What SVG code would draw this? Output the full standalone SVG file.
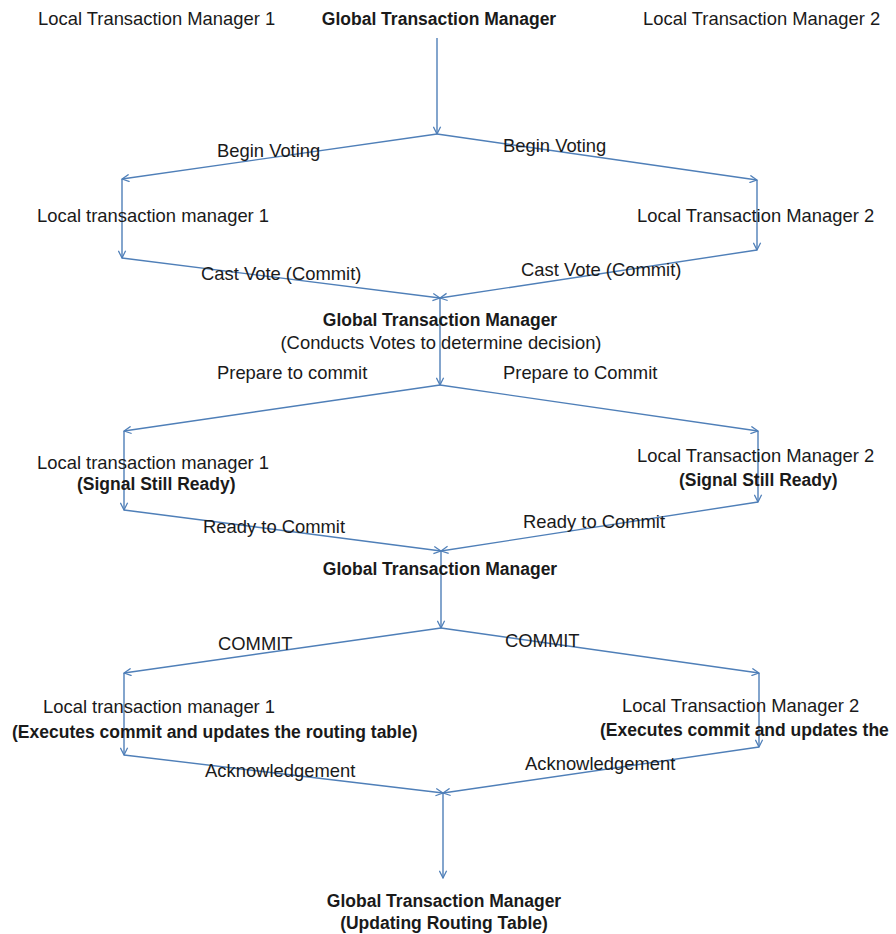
<svg xmlns="http://www.w3.org/2000/svg" width="896" height="934" viewBox="0 0 896 934">
  <style>
    .t { font-family: "Liberation Sans", Arial, sans-serif; font-size: 18.4px; fill: #1a1a1a; }
    .b { font-weight: bold; font-size: 17.5px; }
    .c { text-anchor: middle; }
    .ln { stroke: #4f7fb8; stroke-width: 1.4; fill: none; marker-end: url(#arr); }
  </style>
  <defs>
    <marker id="arr" viewBox="0 0 10 10" refX="9" refY="5" markerWidth="9" markerHeight="9" markerUnits="userSpaceOnUse" orient="auto">
      <path d="M1,1 L9,5 L1,9" fill="none" stroke="#4f7fb8" stroke-width="1.4"/>
    </marker>
  </defs>
  <rect width="896" height="934" fill="#ffffff"/>

  <!-- connectors -->
  <g id="connectors">
    <!-- phase 1: begin voting -->
    <line class="ln" x1="437" y1="38" x2="437" y2="134"/>
    <line class="ln" x1="437" y1="134" x2="122" y2="179"/>
    <line class="ln" x1="437" y1="134" x2="757" y2="180"/>
    <line class="ln" x1="122" y1="179" x2="122" y2="258"/>
    <line class="ln" x1="757" y1="180" x2="757" y2="250"/>
    <line class="ln" x1="122" y1="258" x2="440" y2="298"/>
    <line class="ln" x1="757" y1="250" x2="440" y2="298"/>
    <!-- phase 2: prepare -->
    <line class="ln" x1="440" y1="298" x2="440" y2="385"/>
    <line class="ln" x1="440" y1="385" x2="124" y2="431"/>
    <line class="ln" x1="440" y1="385" x2="758" y2="431"/>
    <line class="ln" x1="124" y1="431" x2="124" y2="510"/>
    <line class="ln" x1="758" y1="431" x2="758" y2="502"/>
    <line class="ln" x1="124" y1="510" x2="441" y2="551"/>
    <line class="ln" x1="758" y1="502" x2="441" y2="551"/>
    <!-- phase 3: commit -->
    <line class="ln" x1="441" y1="551" x2="441" y2="628"/>
    <line class="ln" x1="441" y1="628" x2="124" y2="673"/>
    <line class="ln" x1="441" y1="628" x2="759" y2="673"/>
    <line class="ln" x1="124" y1="673" x2="124" y2="755"/>
    <line class="ln" x1="759" y1="673" x2="759" y2="747"/>
    <line class="ln" x1="124" y1="755" x2="443" y2="793"/>
    <line class="ln" x1="759" y1="747" x2="443" y2="793"/>
    <line class="ln" x1="443" y1="793" x2="443" y2="878"/>
  </g>

  <!-- edge labels -->
  <g id="labels">
    <text class="t" x="217" y="157">Begin Voting</text>
    <text class="t" x="503" y="152">Begin Voting</text>
    <text class="t" x="201" y="280">Cast Vote (Commit)</text>
    <text class="t" x="521" y="276">Cast Vote (Commit)</text>
    <text class="t" x="217" y="379">Prepare to commit</text>
    <text class="t" x="503" y="379">Prepare to Commit</text>
    <text class="t" x="203" y="533">Ready to Commit</text>
    <text class="t" x="523" y="528">Ready to Commit</text>
    <text class="t" x="218" y="650">COMMIT</text>
    <text class="t" x="505" y="647">COMMIT</text>
    <text class="t" x="205" y="777">Acknowledgement</text>
    <text class="t" x="525" y="770">Acknowledgement</text>
  </g>

  <!-- top row -->
  <g id="ltm1-top"><text class="t" x="38" y="25">Local Transaction Manager 1</text></g>
  <g id="gtm-top"><text class="t b c" x="439" y="25">Global Transaction Manager</text></g>
  <g id="ltm2-top"><text class="t" x="643" y="25">Local Transaction Manager 2</text></g>

  <!-- phase 1 nodes -->
  <g id="ltm1-vote"><text class="t" x="37" y="222">Local transaction manager 1</text></g>
  <g id="ltm2-vote"><text class="t" x="637" y="222">Local Transaction Manager 2</text></g>
  <g id="gtm-decide">
    <text class="t b c" x="440" y="326">Global Transaction Manager</text>
    <text class="t c" x="441" y="349">(Conducts Votes to determine decision)</text>
  </g>

  <!-- phase 2 nodes -->
  <g id="ltm1-ready">
    <text class="t" x="37" y="469">Local transaction manager 1</text>
    <text class="t b" x="77" y="490">(Signal Still Ready)</text>
  </g>
  <g id="ltm2-ready">
    <text class="t" x="637" y="462">Local Transaction Manager 2</text>
    <text class="t b" x="679" y="486">(Signal Still Ready)</text>
  </g>
  <g id="gtm-commit"><text class="t b c" x="440" y="575">Global Transaction Manager</text></g>

  <!-- phase 3 nodes -->
  <g id="ltm1-exec">
    <text class="t" x="43" y="713">Local transaction manager 1</text>
    <text class="t b" x="12" y="738">(Executes commit and updates the routing table)</text>
  </g>
  <g id="ltm2-exec">
    <text class="t" x="622" y="712">Local Transaction Manager 2</text>
    <text class="t b" x="600" y="736">(Executes commit and updates the</text>
  </g>
  <g id="gtm-final">
    <text class="t b c" x="444" y="907">Global Transaction Manager</text>
    <text class="t b c" x="444" y="929">(Updating Routing Table)</text>
  </g>
</svg>
